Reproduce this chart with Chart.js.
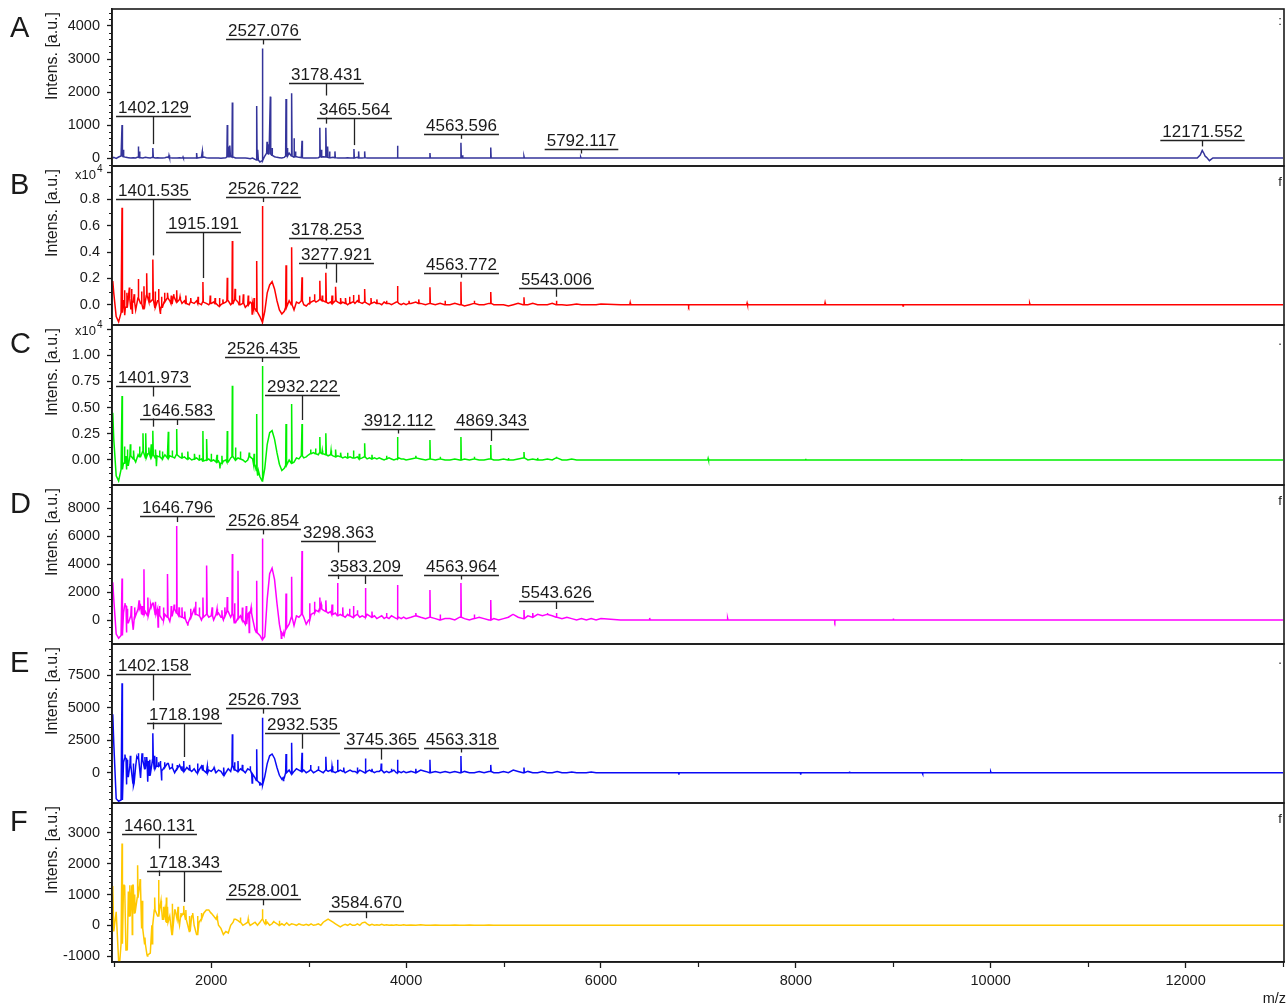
<!DOCTYPE html>
<html>
<head>
<meta charset="utf-8">
<script src="https://cdn.jsdelivr.net/npm/chart.js@4.4.1/dist/chart.umd.min.js"></script>
<style>
  body { margin: 0; background: #fff; }
  #wrap { position: relative; width: 1287px; height: 1006px; overflow: hidden; }
  #wrap canvas { position: absolute; left: 0; }
</style>
</head>
<body>
<div id="wrap"></div>
<script>
// m/z grid shared by every baseline trace
const mzGrid = [
  990, 1000, 1025, 1050, 1075, 1100, 1125, 1150, 1175, 1200,
  1225, 1250, 1275, 1300, 1325, 1350, 1375, 1400, 1425, 1450,
  1475, 1500, 1525, 1550, 1575, 1600, 1625, 1650, 1675, 1700,
  1725, 1750, 1775, 1800, 1825, 1850, 1875, 1900, 1925, 1950,
  1975, 2000, 2025, 2050, 2075, 2100, 2125, 2150, 2175, 2200,
  2225, 2250, 2275, 2300, 2325, 2350, 2375, 2400, 2425, 2450,
  2475, 2500, 2525, 2550, 2575, 2600, 2625, 2650, 2675, 2700,
  2725, 2750, 2775, 2800, 2825, 2850, 2875, 2900, 2925, 2950,
  2975, 3000, 3025, 3050, 3075, 3100, 3125, 3150, 3175, 3200,
  3225, 3250, 3275, 3300, 3325, 3350, 3375, 3400, 3425, 3450,
  3475, 3500, 3525, 3550, 3575, 3600, 3625, 3650, 3675, 3700,
  3725, 3750, 3775, 3800, 3825, 3850, 3875, 3900, 3925, 3950,
  3975, 4000, 4050, 4100, 4150, 4200, 4250, 4300, 4350, 4400,
  4450, 4500, 4550, 4600, 4650, 4700, 4750, 4800, 4850, 4900,
  4950, 5000, 5050, 5100, 5150, 5200, 5250, 5300, 5350, 5400,
  5450, 5500, 5550, 5600, 5650, 5700, 5750, 5800, 5850, 5900,
  5950, 6000, 6200, 6400, 6600, 6800, 7000, 7200, 7400, 7600,
  7800, 8000, 8200, 8400, 8600, 8800, 9000, 9200, 9400, 9600,
  9800, 10000, 10200, 10400, 10600, 10800, 11000, 11200, 11400, 11600,
  11800, 12000, 12200, 12400, 12600, 12800, 13000
];

// ---- Spectrum A ----
const baseA = [
  0, 20, -10, 30, 60, 40, 20, 10, 0, 10,
  0, 30, 10, 0, 20, 10, 0, 20, 0, 10,
  0, 0, 10, 30, 10, 0, 0, 0, 10, 0,
  0, 0, 0, 0, 0, 0, 10, 20, 30, 10,
  0, 0, 0, 0, 0, -10, 0, 10, 40, 60,
  30, 0, 0, 0, 0, 0, -10, -20, 0, -40,
  -60, -120, -80, 60, 150, 120, 80, 40, 20, 10,
  0, 20, 60, 150, 60, 30, 40, 20, 10, 0,
  0, 0, 0, 0, 0, 10, 30, 40, 30, 20,
  10, 20, 10, 0, 0, 0, 0, 10, 0, 0,
  0, 20, 0, 0, 10, 0, 0, 0, 0, 0,
  0, 0, 0, 0, 0, 0, 0, 0, 0, 0,
  0, 0, 0, 0, 0, 0, 0, 0, 0, 0,
  0, 0, 0, 0, 0, 0, 0, 0, 0, 0,
  0, 0, 0, 0, 0, 0, 0, 0, 0, 0,
  0, 0, 0, 0, 0, 0, 0, 0, 0, 0,
  0, 0, 0, 0, 0, 0, 0, 0, 0, 0,
  0, 0, 0, 0, 0, 0, 0, 0, 0, 0,
  0, 0, 0, 0, 0, 0, 0, 0, 0, 0,
  0, 0, 60, 0, 0, 0, 0
];
const peakMzA = [1085, 1100, 1252, 1265, 1402, 1567, 1711, 1851, 1909, 2165,
  2180, 2193, 2217, 2467, 2480, 2527, 2573, 2590, 2607, 2625,
  2768, 2782, 2826, 2850, 2865, 2932, 3115, 3130, 3178, 3195,
  3215, 3270, 3465, 3513, 3575, 3912, 4245, 4563, 4580, 4869,
  5210, 5792];
const peakIntA = [1000, 250, 350, 200, 300, 80, 30, 150, 200, 1000,
  350, 380, 1680, 1575, 250, 3320, 490, 420, 1860, 300,
  1790, 300, 1960, 600, 200, 520, 920, 250, 920, 350,
  200, 200, 270, 200, 200, 370, 150, 460, 80, 320,
  50, 30];
const extraMzA = [12120, 12150, 12171, 12190, 12215, 12245, 12280];
const extraIntA = [0, 90, 230, 130, 20, -80, 0];
const labMzA = [1402.129, 2527.076, 3178.431, 3465.564, 4563.596, 5792.117, 12171.552];
const labLvA = [1270, 3600, 2260, 1200, 720, 270, 550];
const yTicksA = [0, 1000, 2000, 3000, 4000];
const yTextA = ['0', '1000', '2000', '3000', '4000'];

// ---- Spectrum B ----
const baseB = [
  1800, 900, -900, -1300, -600, 300, -200, 500, -300, 200,
  -400, 500, 100, -300, 300, 700, 200, 400, -200, 300,
  -500, -200, 200, 500, 300, 100, 600, 200, 400, 100,
  300, 100, 0, 200, 100, 300, 100, 0, 200, 100,
  0, 100, 200, 100, -100, 0, 100, 200, 300, 0,
  100, 400, 200, 0, 100, -200, 0, 200, 100, -300,
  -500, -900, -1300, -500, 900, 1500, 1750, 1200, 300, -400,
  -700, -500, -200, 300, 0, -400, 200, 100, 300, 0,
  -100, 100, 200, 300, 200, 300, 400, 300, 200, 100,
  200, 100, 300, 200, 100, 200, 100, 0, 100, 200,
  100, 300, 200, 100, 200, 100, 0, 100, 200, 100,
  100, 0, 200, 100, 100, 0, 100, 200, 100, 0,
  100, 0, 100, 200, 100, 0, 100, 0, 100, 0,
  0, 100, 0, -100, 0, 100, 0, 0, 100, 0,
  0, 0, -100, 0, 100, 0, 0, 100, 0, 0,
  0, 100, 0, 0, -50, 0, 50, 0, 0, 0,
  0, 50, 0, 0, 0, 0, 0, 0, 0, 0,
  0, 0, 0, 0, 0, 0, 0, 0, 0, 0,
  0, 0, 0, 0, 0, 0, 0, 0, 0, 0,
  0, 0, 0, 0, 0, 0, 0
];
const peakMzB = [1085, 1184, 1252, 1338, 1402, 1460, 1553, 1646, 1915, 2165,
  2217, 2467, 2527, 2768, 2826, 2932, 3115, 3178, 3278, 3460,
  3515, 3575, 3912, 4245, 4563, 4869, 5210, 5543, 6300, 6900,
  7500, 8300, 9100, 10400];
const peakIntB = [7360, 1200, 1950, 2380, 3440, 1200, 900, 1100, 1720, 2050,
  4830, 3320, 7490, 2990, 4360, 2080, 1820, 2430, 1370, 740,
  760, 1190, 1420, 1320, 1750, 960, 560, 300, 150, -100,
  120, 150, -100, 100];
const noiseMzB = [1110, 1115, 1135, 1160, 1190, 1210, 1285, 1310, 1365, 1425,
  1480, 1490, 1520, 1590, 1615, 1680, 1740, 1790, 1865, 1990,
  2040, 2085, 2120, 2245, 2290, 2330, 2380, 2420, 2440, 3010,
  3060, 3140, 3240, 3330, 3380, 3420, 3640, 3700, 3800, 4030,
  4130, 4400, 4700];
const noiseIntB = [1100, -800, 900, 1300, -700, 800, 1000, 1400, 900, 1000,
  -700, 600, 900, 700, 800, 600, 700, 500, 600, 700,
  500, 500, 400, 1200, 700, 800, 700, -700, 500, 600,
  800, 700, 700, 500, 500, 600, 500, 400, 300, 300,
  400, 300, 300];
const labMzB = [1401.535, 1915.191, 2526.722, 3178.253, 3277.921, 4563.772, 5543.006];
const labLvB = [8050, 5540, 8150, 5040, 3190, 2430, 1270];
const yTicksB = [0, 2000, 4000, 6000, 8000, 10000];
const yTextB = ['0.0', '0.2', '0.4', '0.6', '0.8', ''];

// ---- Spectrum C ----
const baseC = [
  4500, 2000, -1500, -2000, -900, -300, 300, -500, 400, 100,
  -200, 500, 300, 800, 200, 600, 300, 500, 200, 400,
  300, 100, 500, 200, 400, 300, 200, 500, 300, 200,
  300, 100, 200, 0, 100, 200, 0, 100, -100, 0,
  100, -100, 0, -200, -100, -300, -100, 0, -200, 200,
  300, 0, 200, 100, 0, -200, 0, 300, 100, -500,
  -1000, -1600, -2000, -800, 1500, 2600, 2800, 2000, 700, -400,
  -1000, -800, -500, 0, -300, -200, 200, 100, 400, 200,
  300, 500, 600, 700, 600, 500, 700, 600, 500, 400,
  500, 400, 300, 400, 300, 200, 300, 200, 300, 200,
  200, 300, 100, 200, 300, 100, 200, 100, 200, 100,
  200, 100, 0, 100, 200, 100, 0, 100, 200, 100,
  100, 0, 100, 200, 100, 0, 100, 0, 100, 0,
  0, 100, 0, 100, 0, 100, 0, 0, 100, 0,
  0, 100, 0, 0, 100, 200, 0, 100, 0, 0,
  100, 0, 200, 0, 0, 100, 0, 0, 0, 0,
  0, 0, 0, 0, 0, 0, 0, 0, 0, 0,
  0, 0, 0, 0, 0, 0, 0, 0, 0, 0,
  0, 0, 0, 0, 0, 0, 0, 0, 0, 0,
  0, 0, 0, 0, 0, 0, 0
];
const peakMzC = [1085, 1300, 1330, 1402, 1560, 1646, 1915, 1955, 2165, 2217,
  2467, 2527, 2768, 2826, 2932, 3115, 3178, 3278, 3460, 3575,
  3912, 4245, 4563, 4869, 5210, 5543, 7100, 8100, 9700];
const peakIntC = [6110, 2550, 2550, 2800, 2700, 2960, 2770, 2000, 2770, 7100,
  4390, 8980, 3440, 5350, 3440, 2200, 2550, 1000, 900, 1600,
  2200, 1900, 2200, 1430, 760, 300, 150, 120, 100];
const noiseMzC = [1110, 1130, 1140, 1170, 1205, 1265, 1360, 1385, 1430, 1440,
  1470, 1500, 1600, 1700, 1760, 1830, 1880, 2000, 2060, 2090,
  2110, 2250, 2300, 2390, 2440, 2480, 3020, 3070, 3140, 3230,
  3330, 3400, 3520, 3650, 3800, 4100, 4350, 4700, 5050, 5350];
const noiseIntC = [1300, -900, 1000, 1500, 900, 1300, 1200, 1500, 1000, -600,
  900, 800, 900, 700, 800, 600, 500, 600, 500, -800,
  400, 1200, 800, 700, 600, -1500, 1000, 1100, 900, 900,
  700, 700, 600, 500, 400, 400, 300, 300, 200, 200];
const labMzC = [1401.973, 1646.583, 2526.435, 2932.222, 3912.112, 4869.343];
const labLvC = [7070, 3890, 9870, 6210, 2950, 2950];
const yTicksC = [0, 2500, 5000, 7500, 10000, 12500];
const yTextC = ['0.00', '0.25', '0.50', '0.75', '1.00', ''];

// ---- Spectrum D ----
const baseD = [
  2700, 1500, -1000, -1300, -1100, 500, 1000, -200, 300, -700,
  200, 800, 1000, 400, 600, 300, 900, 1200, 400, 800,
  300, 0, 400, 200, -100, 300, 800, 500, 300, 200,
  100, -200, 0, 200, 800, 400, 300, 0, 200, 400,
  200, 300, 0, 400, 500, 200, 0, 300, 600, 200,
  400, -200, 100, 300, 0, -300, 400, 500, 100, -700,
  -900, -1100, -1400, -1200, 1500, 3300, 3700, 2900, 1200, -300,
  -900, -1100, -600, -300, 200, -400, 300, 200, 400, 200,
  -300, 0, 400, 500, 700, 600, 800, 700, 600, 500,
  600, 400, 500, 300, 400, 300, 200, 400, 300, 200,
  300, 400, 200, 300, 200, 400, 300, 200, 300, 100,
  200, 300, 100, 200, 100, 300, 200, 100, 200, 100,
  200, 100, 200, 300, 200, 100, 200, 100, 0, 100,
  100, 0, 200, 100, 0, 100, 200, 100, 0, 100,
  0, 100, 200, 400, 200, 100, 300, 200, 400, 300,
  400, 300, 200, 100, 200, 100, 0, 100, 0, 100,
  0, 100, 0, 0, 0, 0, 0, 0, 0, 0,
  0, 0, 0, 0, 0, 0, 0, 0, 0, 0,
  0, 0, 0, 0, 0, 0, 0, 0, 0, 0,
  0, 0, 0, 0, 0, 0, 0
];
const peakMzD = [1085, 1310, 1402, 1553, 1646, 1670, 1915, 1955, 2165, 2217,
  2275, 2467, 2527, 2768, 2826, 2932, 3115, 3178, 3298, 3460,
  3583, 3912, 4245, 4563, 4869, 5210, 5543, 6500, 7300, 8400,
  9000];
const peakIntD = [2970, 3620, 1200, 3290, 6710, 900, 1600, 3900, 1640, 4710,
  3520, 2810, 5830, 1900, 3090, 4930, 1600, 1400, 2640, 1000,
  2290, 2500, 2140, 2640, 1430, 710, 500, 150, 120, -100,
  100];
const noiseMzD = [1115, 1130, 1140, 1180, 1215, 1260, 1290, 1350, 1380, 1430,
  1455, 1470, 1510, 1590, 1620, 1700, 1730, 1760, 1790, 1840,
  1880, 2010, 2060, 2110, 2140, 2240, 2320, 2360, 2390, 2410,
  2720, 2745, 3010, 3060, 3130, 3240, 3350, 3420, 3500, 3650,
  3800, 4100, 4350, 4700, 5100, 5300, 5450];
const noiseIntD = [1200, -900, 800, 1000, 900, 1400, 1000, 1600, 1100, 1300,
  -500, 1000, 900, 1000, 1100, 900, 600, -400, 800, 1300,
  900, 900, 800, 700, 900, 1200, 900, 1000, -900, 900,
  -1300, -1000, 1200, 1300, 1100, 1100, 900, 800, 700, 600,
  500, 500, 400, 400, 400, 500, 500];
const labMzD = [1646.796, 2526.854, 3298.363, 3583.209, 4563.964, 5543.626];
const labLvD = [7450, 6500, 5640, 3210, 3210, 1360];
const yTicksD = [0, 2000, 4000, 6000, 8000];
const yTextD = ['0', '2000', '4000', '6000', '8000'];

// ---- Spectrum E ----
const baseE = [
  4500, 2300, -2000, -2200, -2100, 800, 1100, -300, 600, -800,
  500, 1200, -400, 1000, 300, 900, -200, 1000, 300, 500,
  600, 200, 400, 700, 300, 400, 0, 300, 600, 200,
  100, 400, 200, 100, 300, 0, 200, 500, 200, 0,
  200, 100, 300, 0, 200, 100, -200, 0, 300, 100,
  500, 200, 100, 300, 200, 0, 300, 200, -100, -400,
  -600, -800, -950, -300, 700, 1300, 1440, 1100, 400, -200,
  -500, -400, 0, 200, -100, 100, 300, 200, 100, 200,
  0, 100, 200, 0, 100, 200, 100, 0, 200, 100,
  200, 100, 0, 100, 200, 100, 0, 100, 200, 100,
  100, 0, 200, 100, 0, 100, 200, 100, 0, 100,
  100, 200, 0, 100, 0, 100, 200, 0, 100, 0,
  100, 0, 100, 0, 200, 100, 0, 100, 0, 100,
  0, 100, 0, 100, 0, 0, 100, 0, 100, 0,
  0, 100, 0, 200, 100, 0, 100, 0, 0, 100,
  0, 0, 100, 0, 0, 50, 0, 0, 0, 50,
  0, 0, 0, 0, 0, 0, 0, 0, 0, 0,
  0, 0, 0, 0, 0, 0, 0, 0, 0, 0,
  0, 0, 0, 0, 0, 0, 0, 0, 0, 0,
  0, 0, 0, 0, 0, 0, 0
];
const peakMzE = [1085, 1252, 1338, 1402, 1460, 1560, 1718, 1915, 2217, 2275,
  2467, 2527, 2768, 2826, 2932, 3178, 3298, 3583, 3745, 3912,
  4245, 4563, 4869, 5210, 6800, 8050, 8550, 9300, 10000];
const peakIntE = [6880, 1500, 1200, 3030, 800, 700, 900, 600, 2960, 900,
  1800, 4240, 1440, 2310, 1540, 1230, 1000, 1100, 700, 1000,
  1000, 1280, 600, 400, -150, -150, 100, -100, 80];
const noiseMzE = [1115, 1130, 1140, 1170, 1200, 1205, 1240, 1290, 1320, 1350,
  1370, 1420, 1440, 1480, 1490, 1520, 1600, 1650, 1700, 1780,
  1860, 1960, 2030, 2130, 2240, 2320, 2400, 2420, 2500, 2740,
  3020, 3100, 3240, 3360, 3500, 3650, 3850, 4100];
const noiseIntE = [1400, -900, 1000, 1300, 700, -1000, 1100, 1500, 1200, -700,
  1000, 1300, 1200, 900, -600, 800, 700, 600, 500, 600,
  700, 500, 400, 400, 800, 600, 500, -800, -1000, -600,
  600, 500, 500, 400, 400, 300, 300, 300];
const labMzE = [1402.158, 1718.198, 2526.793, 2932.535, 3745.365, 4563.318];
const labLvE = [7580, 3800, 4960, 3030, 1900, 1900];
const yTicksE = [0, 2500, 5000, 7500];
const yTextE = ['0', '2500', '5000', '7500'];

// ---- Spectrum F ----
const baseF = [
  1280, -200, 440, -1160, -600, 1300, -800, 1100, 300, 1300,
  400, 900, 1300, -100, -600, -960, -900, 0, 500, 300,
  600, 200, 500, 100, 300, -300, 500, 200, 0, 300,
  400, 200, -200, 300, 0, -300, 100, 200, 400, 500,
  500, 400, 300, 200, 0, -100, -300, -200, -250, 0,
  100, 200, 150, 100, 0, 50, 100, 0, 50, 100,
  0, 100, 200, 50, 100, 0, 50, 100, 50, 0,
  50, 0, 80, 0, 50, 30, 0, 50, 20, 0,
  30, 0, 50, 0, 20, 50, 0, 100, 150, 200,
  150, 100, 50, 0, -50, 0, 30, 0, 50, 0,
  0, 50, 0, 80, 100, 50, 0, 30, 0, 20,
  0, 30, 0, 20, 0, 10, 0, 20, 0, 0,
  20, 0, 10, 0, 20, 0, 0, 10, 0, 0,
  0, 10, 0, 0, 10, 0, 0, 0, 10, 0,
  0, 0, 0, 0, 0, 0, 0, 0, 0, 0,
  0, 0, 0, 0, 0, 0, 0, 0, 0, 0,
  0, 0, 0, 0, 0, 0, 0, 0, 0, 0,
  0, 0, 0, 0, 0, 0, 0, 0, 0, 0,
  0, 0, 0, 0, 0, 0, 0, 0, 0, 0,
  0, 0, 0, 0, 0, 0, 0
];
const peakMzF = [1085, 1245, 1460, 1553, 1718, 2527, 3584];
const peakIntF = [2660, 1950, 1470, 600, 630, 520, 100];
const noiseMzF = [1060, 1110, 1135, 1165, 1190, 1215, 1270, 1290, 1320, 1345,
  1395, 1420, 1485, 1510, 1540, 1600, 1630, 1660, 1690, 1740,
  1780, 1810, 1860, 1900, 2000, 2060, 2240, 2300, 2380, 2560,
  2640, 2700];
const noiseIntF = [-1100, 1100, -700, 1300, -300, 1000, 1500, 800, -400, -1000,
  -600, 900, 800, 600, 900, 700, 500, 600, 400, 500,
  300, 400, 300, 400, 400, 300, 200, 250, 200, 200,
  150, 150];
const labMzF = [1460.131, 1718.343, 2528.001, 3584.670];
const labLvF = [2960, 1770, 845, 470];
const yTicksF = [-1000, 0, 1000, 2000, 3000];
const yTextF = ['-1000', '0', '1000', '2000', '3000'];

// x axis
const xTicks = [2000, 4000, 6000, 8000, 10000, 12000];
const xText = ['2000', '4000', '6000', '8000', '10000', '12000'];
const xMinorTicks = [1000, 3000, 5000, 7000, 9000, 11000, 13000];

const FONT = '"Liberation Sans", Arial, Helvetica, sans-serif';
const INK = '#1a1a1a';

const panels = [
  { letter: 'A', base: baseA, pkMz: peakMzA, pkInt: peakIntA, nzMz: [], nzInt: [], exMz: extraMzA, exInt: extraIntA,
    labMz: labMzA, labLv: labLvA, ticks: yTicksA, text: yTextA, minor: 200,
    color: '#34349a', top: 9, bottom: 166, min: -242, max: 4515, corner: ':' },
  { letter: 'B', base: baseB, pkMz: peakMzB, pkInt: peakIntB, nzMz: noiseMzB, nzInt: noiseIntB, exMz: [], exInt: [],
    labMz: labMzB, labLv: labLvB, ticks: yTicksB, text: yTextB, minor: 1000,
    color: '#ff0000', top: 166, bottom: 325, min: -1541, max: 10531, corner: 'f', expo: 10000 },
  { letter: 'C', base: baseC, pkMz: peakMzC, pkInt: peakIntC, nzMz: noiseMzC, nzInt: noiseIntC, exMz: [], exInt: [],
    labMz: labMzC, labLv: labLvC, ticks: yTicksC, text: yTextC, minor: 625,
    color: '#00f000', top: 325, bottom: 485, min: -2388, max: 12894, corner: '.', expo: 12500 },
  { letter: 'D', base: baseD, pkMz: peakMzD, pkInt: peakIntD, nzMz: noiseMzD, nzInt: noiseIntD, exMz: [], exInt: [],
    labMz: labMzD, labLv: labLvD, ticks: yTicksD, text: yTextD, minor: 500,
    color: '#ff00ff', top: 485, bottom: 644, min: -1714, max: 9643, corner: 'f' },
  { letter: 'E', base: baseE, pkMz: peakMzE, pkInt: peakIntE, nzMz: noiseMzE, nzInt: noiseIntE, exMz: [], exInt: [],
    labMz: labMzE, labLv: labLvE, ticks: yTicksE, text: yTextE, minor: 500,
    color: '#0a0af5', top: 644, bottom: 803, min: -2333, max: 9910, corner: '.' },
  { letter: 'F', base: baseF, pkMz: peakMzF, pkInt: peakIntF, nzMz: noiseMzF, nzInt: noiseIntF, exMz: [], exInt: [],
    labMz: labMzF, labLv: labLvF, ticks: yTicksF, text: yTextF, minor: 200,
    color: '#ffc800', top: 803, bottom: 962, min: -1192, max: 3973, corner: 'f' }
];

// baseline grid + narrow spikes for peaks and noise + extra points
function buildSpectrum(p) {
  const pts = mzGrid.map((m, i) => ({ x: m, y: p.base[i] }));
  function spike(m, h) {
    let k = 0;
    mzGrid.forEach((g, j) => { if (Math.abs(g - m) < Math.abs(mzGrid[k] - m)) k = j; });
    const b = p.base[k];
    pts.push({ x: m - 4, y: b }, { x: m, y: h }, { x: m + 4, y: b });
  }
  p.pkMz.forEach((m, i) => spike(m, p.pkInt[i]));
  p.nzMz.forEach((m, i) => spike(m, p.nzInt[i]));
  p.exMz.forEach((m, i) => pts.push({ x: m, y: p.exInt[i] }));
  return pts.sort((a, b) => a.x - b.x);
}

const panelDeco = {
  id: 'panelDeco',
  afterDatasetsDraw(chart, args, opts) {
    const p = opts.panel;
    const { ctx, chartArea: ca } = chart;
    const x = chart.scales.x, y = chart.scales.y;
    const pts = chart.data.datasets[0].data;
    ctx.save();

    // peak labels: tick lines first, then text boxes on top
    const items = p.labMz.map((m, i) => {
      const px = Math.round(x.getPixelForValue(m)) + 0.5;
      const barY = Math.round(y.getPixelForValue(p.labLv[i])) + 0.5;
      let top = -Infinity;
      pts.forEach(pt => { if (Math.abs(pt.x - m) <= 6 && pt.y > top) top = pt.y; });
      const tipY = Math.max(y.getPixelForValue(top) - 4, barY + 4);
      return { px, barY, tipY, text: m.toFixed(3) };
    });
    ctx.strokeStyle = '#222';
    ctx.lineWidth = 1.3;
    items.forEach(it => {
      ctx.beginPath();
      ctx.moveTo(it.px, it.barY);
      ctx.lineTo(it.px, it.tipY);
      ctx.stroke();
    });
    ctx.font = '17px ' + FONT;
    ctx.textAlign = 'center';
    ctx.textBaseline = 'alphabetic';
    items.forEach(it => {
      const w = ctx.measureText(it.text).width;
      ctx.fillStyle = '#fff';
      ctx.fillRect(it.px - w / 2 - 1, it.barY - 23, w + 2, 22);
      ctx.fillStyle = INK;
      ctx.fillText(it.text, it.px, it.barY - 4);
      ctx.beginPath();
      ctx.moveTo(it.px - w / 2 - 2, it.barY);
      ctx.lineTo(it.px + w / 2 + 2, it.barY);
      ctx.stroke();
    });

    // frame
    ctx.strokeStyle = INK;
    ctx.lineWidth = 1.6;
    ctx.strokeRect(ca.left, ca.top, ca.right - ca.left, ca.bottom - ca.top);
    ctx.restore();
  },
  afterDraw(chart, args, opts) {
    const p = opts.panel;
    const { ctx, chartArea: ca } = chart;
    const x = chart.scales.x, y = chart.scales.y;
    ctx.save();
    ctx.strokeStyle = INK;
    ctx.fillStyle = INK;
    ctx.lineWidth = 1.2;

    // minor y ticks
    ctx.beginPath();
    for (let v = Math.ceil(p.min / p.minor) * p.minor; v <= p.max; v += p.minor) {
      if (p.ticks.includes(v)) continue;
      const yy = Math.round(y.getPixelForValue(v)) + 0.5;
      ctx.moveTo(ca.left - 3, yy);
      ctx.lineTo(ca.left, yy);
    }
    ctx.stroke();

    // minor x ticks on the bottom panel
    if (opts.last) {
      ctx.beginPath();
      xMinorTicks.forEach(v => {
        const xx = Math.round(x.getPixelForValue(v)) + 0.5;
        ctx.moveTo(xx, ca.bottom);
        ctx.lineTo(xx, ca.bottom + 5);
      });
      ctx.stroke();
      ctx.font = '14.5px ' + FONT;
      ctx.textAlign = 'right';
      ctx.textBaseline = 'alphabetic';
      ctx.fillText('m/z', 1286, chart.height - 3);
    }

    // panel letter
    ctx.font = '29px ' + FONT;
    ctx.textAlign = 'left';
    ctx.textBaseline = 'alphabetic';
    ctx.fillText(p.letter, 10, ca.top + 27.5);

    // axis title
    ctx.save();
    ctx.translate(52.5, ca.top + 3);
    ctx.rotate(-Math.PI / 2);
    ctx.font = '16px ' + FONT;
    ctx.textAlign = 'right';
    ctx.textBaseline = 'middle';
    ctx.fillText('Intens. [a.u.]', 0, 0);
    ctx.restore();

    // x10^4 exponent
    if (p.expo) {
      const yy = y.getPixelForValue(p.expo);
      ctx.font = '13px ' + FONT;
      ctx.textAlign = 'right';
      ctx.fillText('x10', 96, yy + 6);
      ctx.font = '10px ' + FONT;
      ctx.textAlign = 'left';
      ctx.fillText('4', 97, yy - 1);
    }

    // small mark in the top right corner
    ctx.font = '13px ' + FONT;
    ctx.textAlign = 'center';
    ctx.fillText(p.corner, 1280, ca.top + (p.corner === ':' ? 16 : 20));
    ctx.restore();
  }
};

const wrap = document.getElementById('wrap');

panels.forEach((p, i) => {
  const last = i === panels.length - 1;
  const cTop = p.top - 10;
  const cH = last ? 1006 - cTop : p.bottom + 10 - cTop;
  const cv = document.createElement('canvas');
  cv.width = 1287;
  cv.height = cH;
  cv.style.top = cTop + 'px';
  cv.style.width = '1287px';
  cv.style.height = cH + 'px';
  wrap.appendChild(cv);

  new Chart(cv, {
    type: 'line',
    data: {
      datasets: [{
        data: buildSpectrum(p),
        borderColor: p.color,
        borderWidth: 1.5,
        pointRadius: 0,
        tension: 0,
        fill: false
      }]
    },
    options: {
      responsive: false,
      maintainAspectRatio: false,
      animation: false,
      devicePixelRatio: 1,
      events: [],
      layout: { padding: { top: 10, bottom: last ? 0 : 10, left: 0, right: 3 } },
      plugins: {
        legend: { display: false },
        tooltip: { enabled: false },
        panelDeco: { panel: p, last: last }
      },
      scales: {
        x: {
          type: 'linear',
          min: 982,
          max: 13010,
          display: last,
          afterBuildTicks: s => { s.ticks = xTicks.map(v => ({ value: v })); },
          afterFit: s => {
            s.height = last ? 44 : 0;
            s.paddingLeft = 0; s.paddingRight = 0; s.paddingTop = 0; s.paddingBottom = 0;
          },
          ticks: {
            callback: (v, idx) => xText[idx],
            font: { family: FONT, size: 14.5 },
            color: INK,
            padding: 4,
            maxRotation: 0,
            autoSkip: false
          },
          grid: { drawOnChartArea: false, drawTicks: true, tickLength: 6, tickColor: INK, tickWidth: 1.3 },
          border: { display: true, color: INK, width: 1.6 }
        },
        y: {
          type: 'linear',
          min: p.min,
          max: p.max,
          afterBuildTicks: s => { s.ticks = p.ticks.map(v => ({ value: v })); },
          afterFit: s => {
            s.width = 112;
            s.paddingTop = 0; s.paddingBottom = 0; s.paddingLeft = 0; s.paddingRight = 0;
          },
          ticks: {
            callback: (v, idx) => p.text[idx],
            font: { family: FONT, size: 14.5 },
            color: INK,
            padding: 7,
            autoSkip: false
          },
          grid: { drawOnChartArea: false, drawTicks: true, tickLength: 5, tickColor: INK, tickWidth: 1.3 },
          border: { display: true, color: INK, width: 1.6 }
        }
      }
    },
    plugins: [panelDeco]
  });
});
</script>
</body>
</html>
